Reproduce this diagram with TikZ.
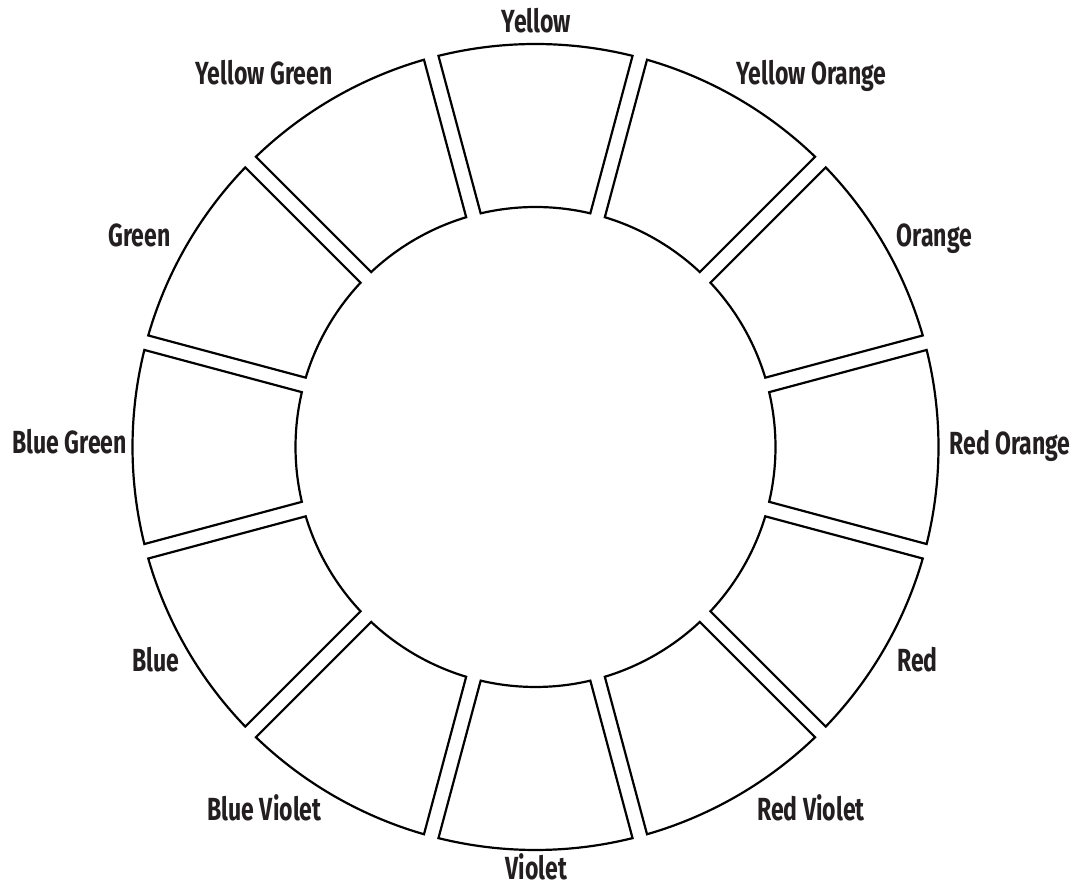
\documentclass[tikz,border=0pt]{standalone}
\usepackage{fontspec}
\setmainfont{Fira Sans}[FakeStretch=0.72]
\definecolor{txt}{HTML}{231F20}
\begin{document}
\begin{tikzpicture}[x=1pt,y=1pt,
  seg/.style={draw=black,line width=2.2pt,line join=miter},
  lab/.style={anchor=base,inner sep=0pt,text=txt,font=\fontsize{32}{36}\selectfont\bfseries}]
\path[use as bounding box] (0,0) rectangle (1074,888);
\def\Ro{403}\def\Ri{240}\def\d{7.5}
\pgfmathsetmacro{\ao}{asin(\d/\Ro)}
\pgfmathsetmacro{\ai}{asin(\d/\Ri)}
\begin{scope}[shift={(535.5,441)}]
\foreach \c in {0,30,...,330}{
  \draw[seg] ({\c-15+\ao}:\Ro pt) arc[start angle={\c-15+\ao}, end angle={\c+15-\ao}, radius=\Ro pt]
     -- ({\c+15-\ai}:\Ri pt) arc[start angle={\c+15-\ai}, end angle={\c-15+\ai}, radius=\Ri pt] -- cycle;
}
\end{scope}
\node[lab] (y)  at (536.5,855) {Yellow};
\node[lab] (yo) at (811.5,803) {Yellow Orange};
\node[lab] (yg) at (264,803) {Yellow Green};
\node[lab] (o)  at (934.5,641) {Orange};
\node[lab] (g)  at (139.5,641) {Green};
\node[lab] (ro) at (1010,433) {Red Orange};
\node[lab] (bg) at (69.5,434) {Blue Green};
\node[lab] (r)  at (917.5,216) {Red};
\node[lab] (b)  at (155.5,216) {Blue};
\node[lab] (rv) at (811,67) {Red Violet};
\node[lab] (bv) at (264.5,67) {Blue Violet};
\node[lab] (v)  at (536.5,8) {Violet};
\end{tikzpicture}
\end{document}
